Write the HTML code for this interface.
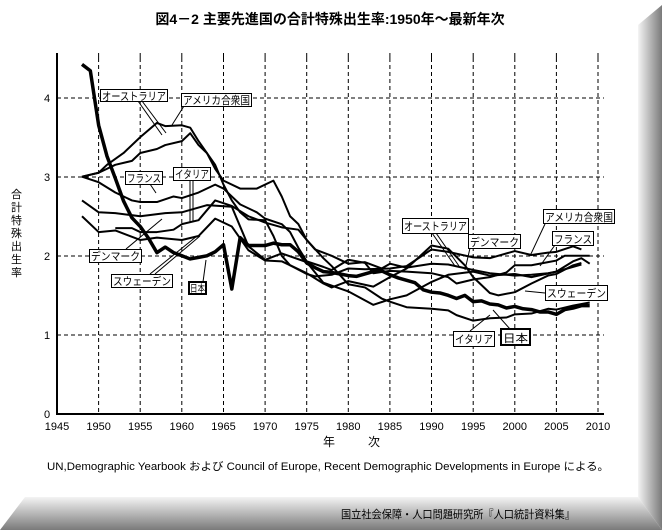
<!DOCTYPE html>
<html><head><meta charset="utf-8"><style>
html,body{margin:0;padding:0;background:#fff;}
svg{display:block;}
text{font-family:"Liberation Sans","Noto Sans CJK JP",sans-serif;fill:#000;}
.lb{font-size:11px;}
</style></head><body>
<svg width="662" height="530" viewBox="0 0 662 530" xmlns="http://www.w3.org/2000/svg">
<defs>
<linearGradient id="gr" x1="0" x2="1" y1="0" y2="0"><stop offset="0" stop-color="#f4f4f4"/><stop offset="1" stop-color="#7a7a7a"/></linearGradient>
<linearGradient id="gb" x1="0" x2="0" y1="0" y2="1"><stop offset="0" stop-color="#f4f4f4"/><stop offset="1" stop-color="#7a7a7a"/></linearGradient>
</defs>
<rect width="662" height="530" fill="#fff"/>
<polygon points="638,25 662,5 662,530 638,497" fill="url(#gr)"/>
<polygon points="25,497 638,497 662,530 0,530" fill="url(#gb)"/>
<text x="330" y="24" font-size="14" font-weight="bold" text-anchor="middle">図4－2 主要先進国の合計特殊出生率:1950年～最新年次</text>
<g stroke="#000" stroke-width="1" stroke-dasharray="4,3">
<line x1="98.6" y1="58" x2="98.6" y2="414"/><line x1="140.2" y1="58" x2="140.2" y2="414"/><line x1="181.8" y1="58" x2="181.8" y2="414"/><line x1="223.5" y1="58" x2="223.5" y2="414"/><line x1="265.1" y1="58" x2="265.1" y2="414"/><line x1="306.7" y1="58" x2="306.7" y2="414"/><line x1="348.3" y1="58" x2="348.3" y2="414"/><line x1="389.9" y1="58" x2="389.9" y2="414"/><line x1="431.5" y1="58" x2="431.5" y2="414"/><line x1="473.2" y1="58" x2="473.2" y2="414"/><line x1="514.8" y1="58" x2="514.8" y2="414"/><line x1="556.4" y1="58" x2="556.4" y2="414"/><line x1="598" y1="58" x2="598" y2="414"/>
<line x1="57" y1="335" x2="604" y2="335"/><line x1="57" y1="256" x2="604" y2="256"/><line x1="57" y1="177" x2="604" y2="177"/><line x1="57" y1="98" x2="604" y2="98"/>
</g>
<g stroke="#000" stroke-width="1">
<line x1="98.6" y1="53" x2="98.6" y2="58"/><line x1="140.2" y1="53" x2="140.2" y2="58"/><line x1="181.8" y1="53" x2="181.8" y2="58"/><line x1="223.5" y1="53" x2="223.5" y2="58"/><line x1="265.1" y1="53" x2="265.1" y2="58"/><line x1="306.7" y1="53" x2="306.7" y2="58"/><line x1="348.3" y1="53" x2="348.3" y2="58"/><line x1="389.9" y1="53" x2="389.9" y2="58"/><line x1="431.5" y1="53" x2="431.5" y2="58"/><line x1="473.2" y1="53" x2="473.2" y2="58"/><line x1="514.8" y1="53" x2="514.8" y2="58"/><line x1="556.4" y1="53" x2="556.4" y2="58"/><line x1="598" y1="53" x2="598" y2="58"/>
</g>
<g stroke="#000" stroke-width="2"><line x1="57" y1="53" x2="57" y2="415"/><line x1="56" y1="414" x2="604" y2="414"/></g>
<g font-size="11"><text x="44" y="418">0</text><text x="44" y="339">1</text><text x="44" y="260">2</text><text x="44" y="181">3</text><text x="44" y="102">4</text></g>
<g font-size="11" text-anchor="middle"><text x="57" y="430">1945</text><text x="98.6" y="430">1950</text><text x="140.2" y="430">1955</text><text x="181.8" y="430">1960</text><text x="223.5" y="430">1965</text><text x="265.1" y="430">1970</text><text x="306.7" y="430">1975</text><text x="348.3" y="430">1980</text><text x="389.9" y="430">1985</text><text x="431.5" y="430">1990</text><text x="473.2" y="430">1995</text><text x="514.8" y="430">2000</text><text x="556.4" y="430">2005</text><text x="598" y="430">2010</text></g>
<text x="323" y="446" font-size="12">年</text><text x="368" y="446" font-size="12">次</text>
<g font-size="11"><text x="11" y="198">合</text><text x="11" y="211">計</text><text x="11" y="224">特</text><text x="11" y="237">殊</text><text x="11" y="250">出</text><text x="11" y="263">生</text><text x="11" y="276">率</text></g>
<text x="47" y="470" font-size="11" textLength="562" lengthAdjust="spacingAndGlyphs">UN,Demographic Yearbook および Council of Europe, Recent Demographic Developments in Europe による。</text>
<text x="341" y="518" font-size="11" textLength="234" lengthAdjust="spacingAndGlyphs">国立社会保障・人口問題研究所『人口統計資料集』</text>
<g fill="none" stroke="#000" stroke-linejoin="round" transform="matrix(8.323,0,0,-79.1,-16131.2,414)">
<polyline vector-effect="non-scaling-stroke" stroke-width="3.5" points="1948,4.42 1949,4.34 1950,3.65 1951,3.26 1952,2.98 1953,2.69 1954,2.48 1955,2.37 1956,2.22 1957,2.04 1958,2.11 1959,2.04 1960,2.0 1961,1.96 1962,1.98 1963,2.0 1964,2.05 1965,2.14 1966,1.58 1967,2.23 1968,2.13 1969,2.13 1970,2.13 1971,2.16 1972,2.14 1973,2.14 1974,2.05 1975,1.91 1976,1.85 1977,1.8 1978,1.79 1979,1.77 1980,1.75 1981,1.74 1982,1.77 1983,1.8 1984,1.81 1985,1.76 1986,1.72 1987,1.69 1988,1.66 1989,1.57 1990,1.54 1991,1.53 1992,1.5 1993,1.46 1994,1.5 1995,1.42 1996,1.43 1997,1.39 1998,1.38 1999,1.34 2000,1.36 2001,1.33 2002,1.32 2003,1.29 2004,1.29 2005,1.26 2006,1.32 2007,1.34 2008,1.37 2009,1.37"/>
<polyline vector-effect="non-scaling-stroke" stroke-width="2" points="1948,3.0 1950,3.05 1951,3.15 1953,3.3 1955,3.5 1957,3.68 1958,3.64 1960,3.65 1961,3.62 1962,3.45 1963,3.3 1964,3.15 1965,2.9 1966,2.7 1967,2.55 1968,2.46 1970,2.45 1971,2.25 1972,2.0 1973,1.88 1975,1.77 1976,1.74 1978,1.76 1980,1.84 1982,1.83 1985,1.84 1987,1.87 1989,2.01 1990,2.08 1992,2.05 1995,1.98 1997,1.97 2000,2.06 2002,2.01 2004,2.04 2005,2.05 2007,2.12 2008,2.08"/>
<polyline vector-effect="non-scaling-stroke" stroke-width="2" points="1948,3.0 1950,3.05 1952,3.15 1954,3.2 1955,3.3 1957,3.35 1958,3.4 1960,3.45 1961,3.55 1962,3.4 1963,3.3 1964,3.1 1965,2.95 1967,2.85 1969,2.85 1971,2.95 1972,2.75 1973,2.5 1974,2.4 1975,2.2 1976,2.08 1978,2.0 1980,1.9 1982,1.92 1984,1.84 1985,1.9 1987,1.85 1990,1.9 1992,1.89 1995,1.82 1997,1.78 2000,1.75 2002,1.76 2004,1.78 2005,1.8 2007,1.93 2008,1.97 2009,1.9"/>
<polyline vector-effect="non-scaling-stroke" stroke-width="2" points="1948,3.0 1950,2.93 1952,2.8 1954,2.7 1955,2.68 1957,2.68 1959,2.75 1960,2.73 1962,2.8 1964,2.9 1965,2.85 1967,2.65 1969,2.55 1970,2.47 1972,2.4 1973,2.3 1974,2.1 1975,1.93 1977,1.86 1978,1.82 1980,1.95 1982,1.91 1983,1.78 1985,1.81 1987,1.8 1990,1.78 1992,1.73 1993,1.65 1995,1.7 1997,1.73 1999,1.79 2000,1.88 2002,1.88 2004,1.92 2005,1.94 2006,2.0 2008,2.0 2009,2.0"/>
<polyline vector-effect="non-scaling-stroke" stroke-width="2" points="1952,2.35 1954,2.35 1955,2.3 1957,2.3 1959,2.33 1960,2.4 1962,2.45 1964,2.7 1966,2.63 1968,2.5 1970,2.42 1972,2.36 1974,2.33 1975,2.2 1977,1.97 1978,1.87 1980,1.64 1982,1.6 1984,1.46 1985,1.42 1987,1.35 1990,1.33 1992,1.31 1993,1.25 1995,1.18 1997,1.21 1999,1.22 2000,1.26 2002,1.27 2004,1.33 2005,1.32 2007,1.37 2009,1.41"/>
<polyline vector-effect="non-scaling-stroke" stroke-width="2" points="1948,2.7 1950,2.55 1952,2.54 1955,2.5 1958,2.54 1960,2.55 1963,2.64 1966,2.62 1968,2.12 1970,1.95 1972,2.03 1975,1.92 1977,1.66 1980,1.55 1983,1.38 1985,1.45 1987,1.5 1990,1.67 1992,1.76 1995,1.8 1997,1.75 2000,1.77 2002,1.73 2005,1.8 2008,1.89"/>
<polyline vector-effect="non-scaling-stroke" stroke-width="2" points="1948,2.5 1950,2.3 1952,2.32 1955,2.2 1957,2.23 1960,2.2 1962,2.25 1964,2.47 1966,2.37 1968,2.07 1970,1.94 1972,1.93 1975,1.78 1977,1.65 1978,1.6 1980,1.68 1983,1.61 1985,1.73 1987,1.84 1990,2.13 1992,2.09 1994,1.88 1995,1.73 1997,1.53 1998,1.5 2000,1.54 2002,1.65 2004,1.75 2005,1.77 2007,1.88 2008,1.91"/>
</g>
<g stroke="#000" stroke-width="1" fill="none">
<polyline points="138,101 162,135"/><polyline points="142,101 166,133"/>
<polyline points="184,106 172,125"/>
<polyline points="150,184 156,193"/>
<polyline points="190,180 190,222"/><polyline points="193,180 193,222"/>
<polyline points="126,249 162,219"/>
<polyline points="150,274 197,236"/><polyline points="155,274 200,236"/>
<polyline points="203,282 206,260"/>
<polyline points="432,233 455,266"/><polyline points="436,233 459,266"/>
<polyline points="470,248 465,270"/>
<polyline points="545,224 530,256"/>
<polyline points="555,245 540,266"/>
<polyline points="545,293 525,291"/>
<polyline points="470,331 490,315"/>
<polyline points="510,329 493,310"/>
</g>
<g stroke="#000" fill="#fff">
<rect x="100.5" y="89.5" width="67" height="12"/>
<rect x="181.5" y="93.5" width="70" height="13"/>
<rect x="125.5" y="171.5" width="37" height="13"/>
<rect x="173.5" y="167.5" width="37" height="13"/>
<rect x="89.5" y="249.5" width="52" height="13"/>
<rect x="111.5" y="274.5" width="61" height="13"/>
<rect x="189" y="282" width="17" height="12" stroke-width="2"/>
<rect x="402.5" y="218.5" width="66" height="15"/>
<rect x="468.5" y="234.5" width="52" height="14"/>
<rect x="543.5" y="209.5" width="71" height="14"/>
<rect x="552.5" y="231.5" width="41" height="14"/>
<rect x="545.5" y="285.5" width="62" height="15"/>
<rect x="453.5" y="331.5" width="41" height="15"/>
<rect x="501" y="329" width="29" height="16" stroke-width="2"/>
</g>
<g class="lb">
<text x="102" y="100" textLength="64" lengthAdjust="spacingAndGlyphs">オーストラリア</text>
<text x="183" y="104" textLength="67" lengthAdjust="spacingAndGlyphs">アメリカ合衆国</text>
<text x="127" y="182" textLength="34" lengthAdjust="spacingAndGlyphs">フランス</text>
<text x="175" y="178" textLength="34" lengthAdjust="spacingAndGlyphs">イタリア</text>
<text x="91" y="260" textLength="49" lengthAdjust="spacingAndGlyphs">デンマーク</text>
<text x="113" y="285" textLength="58" lengthAdjust="spacingAndGlyphs">スウェーデン</text>
<text x="190" y="292" font-size="10" textLength="15" lengthAdjust="spacingAndGlyphs">日本</text>
<text x="404" y="230" textLength="63" lengthAdjust="spacingAndGlyphs">オーストラリア</text>
<text x="470" y="246" textLength="49" lengthAdjust="spacingAndGlyphs">デンマーク</text>
<text x="545" y="221" textLength="68" lengthAdjust="spacingAndGlyphs">アメリカ合衆国</text>
<text x="554" y="243" textLength="38" lengthAdjust="spacingAndGlyphs">フランス</text>
<text x="547" y="297" textLength="59" lengthAdjust="spacingAndGlyphs">スウェーデン</text>
<text x="455" y="343" textLength="38" lengthAdjust="spacingAndGlyphs">イタリア</text>
<text x="503" y="342" textLength="25" lengthAdjust="spacingAndGlyphs">日本</text>
</g>
</svg>
</body></html>
